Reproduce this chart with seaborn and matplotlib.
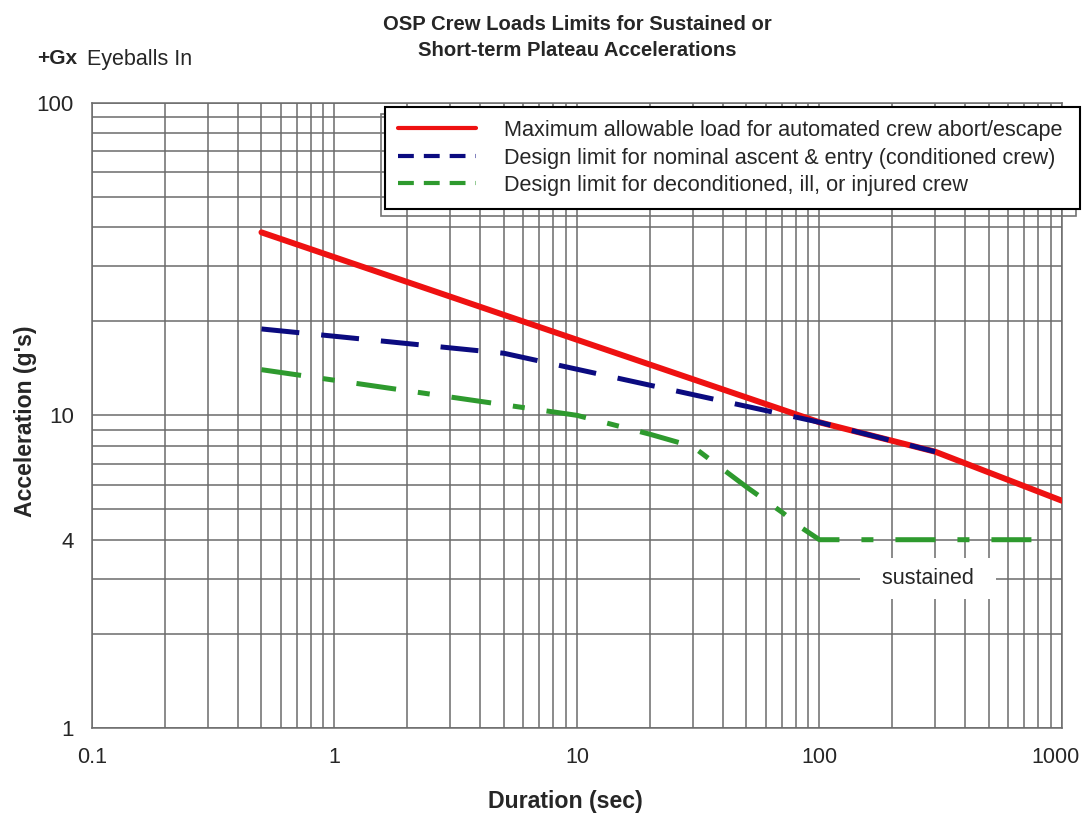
import matplotlib
matplotlib.use('Agg')
import matplotlib.pyplot as plt
from matplotlib.ticker import FixedLocator, FixedFormatter, LogLocator, NullFormatter
from matplotlib.transforms import ScaledTranslation
import pandas as pd
import seaborn as sns

# curves (duration in s, acceleration in g)
duration_abort = [0.5, 100, 300, 1000]
accel_abort = [38.5, 9.5, 7.65, 5.33]
duration_nominal = [0.5, 5, 100, 300]
accel_nominal = [18.9, 15.8, 9.5, 7.65]
duration_decond = [0.5, 10, 20, 30, 50, 70, 85, 100, 850]
accel_decond = [14.0, 10.0, 8.7, 7.95, 5.9, 4.9, 4.35, 4.0, 4.0]

series_labels = ["Maximum allowable load for automated crew abort/escape",
                 "Design limit for nominal ascent & entry (conditioned crew)",
                 "Design limit for deconditioned, ill, or injured crew"]
x_ticks = [0.1, 1, 10, 100, 1000]
x_ticklabels = ['0.1', '1', '10', '100', '1000']
y_ticks = [1, 4, 10, 100]
y_ticklabels = ['1', '4', '10', '100']

sns.set_style('white')
plt.rcParams['font.family'] = ['Liberation Sans', 'DejaVu Sans']

fig, ax = plt.subplots(figsize=(10.82, 8.16), dpi=100)
fig.subplots_adjust(left=0.085, right=0.9815, bottom=0.108, top=0.874)

abort = pd.DataFrame({'duration': duration_abort, 'accel': accel_abort})
nominal = pd.DataFrame({'duration': duration_nominal, 'accel': accel_nominal})
decond = pd.DataFrame({'duration': duration_decond, 'accel': accel_decond})

sns.lineplot(data=abort, x='duration', y='accel', color='#ee1111', lw=4.3,
             label=series_labels[0], legend=False, ax=ax, zorder=3)
sns.lineplot(data=nominal, x='duration', y='accel', color='#0b0b80', lw=3.6,
             linestyle=(0, (7.6, 4.4)), label=series_labels[1], legend=False, ax=ax, zorder=4)
sns.lineplot(data=decond, x='duration', y='accel', color='#2e9a2e', lw=3.6,
             linestyle=(0, (8, 4.4, 2.4, 4.4)), label=series_labels[2], legend=False, ax=ax, zorder=4)

ax.set_xscale('log')
ax.set_yscale('log')
ax.set_xlim(0.1, 1000)
ax.set_ylim(1, 100)

ax.xaxis.set_major_locator(FixedLocator(x_ticks))
ax.xaxis.set_major_formatter(FixedFormatter(x_ticklabels))
ax.xaxis.set_minor_locator(LogLocator(base=10, subs=range(2, 10)))
ax.xaxis.set_minor_formatter(NullFormatter())
ax.yaxis.set_major_locator(FixedLocator(y_ticks))
ax.yaxis.set_major_formatter(FixedFormatter(y_ticklabels))
ax.yaxis.set_minor_locator(LogLocator(base=10, subs=range(2, 10)))
ax.yaxis.set_minor_formatter(NullFormatter())

ax.set_axisbelow(True)
ax.grid(True, which='both', color='0.42', lw=1.1)
for sp in ax.spines.values():
    sp.set_color('0.42')
    sp.set_linewidth(1.1)
ax.tick_params(axis='y', which='major', length=5, width=1, color='0.42', pad=8, labelsize=16)
ax.tick_params(axis='y', which='minor', length=0)
ax.tick_params(axis='x', which='both', length=0, pad=14, labelsize=15.5)

ax.set_xlabel('Duration (sec)', fontsize=16.7, fontweight='bold')
ax.set_ylabel("Acceleration (g's)", fontsize=16.6, fontweight='bold')
ax.xaxis.set_label_coords(0.4876, -0.099)
ax.yaxis.set_label_coords(-0.0568, 0.49)

ax.text(280, 3.0, '  sustained  ', ha='center', va='center', fontsize=15.5,
        bbox=dict(boxstyle='square,pad=0.47', fc='white', ec='none'), zorder=3)

leg = ax.legend(loc='upper left', bbox_to_anchor=(0.3558, 0.7426, 0.6423, 0.1262),
                bbox_transform=fig.transFigure, mode='expand', borderaxespad=0,
                fontsize=15.6, frameon=True, fancybox=False, edgecolor='black',
                framealpha=1, borderpad=0.6, labelspacing=0.3, handlelength=3.6,
                handletextpad=1.3,
                shadow={'ox': -3, 'oy': -5, 'facecolor': 'none', 'edgecolor': '0.45',
                        'alpha': 1, 'linewidth': 1.2})
leg.get_frame().set_linewidth(1.5)
for i, line in enumerate(leg.get_lines()):
    line.set_linewidth(3)
    if i > 0:
        line.set_linestyle((0, (3.8, 2.4)))

fig.text(577 / 1082, 1 - 24 / 816, 'OSP Crew Loads Limits for Sustained or',
         ha='center', va='center', fontsize=14.6, fontweight='bold')
fig.text(577 / 1082, 1 - 51 / 816, 'Short-term Plateau Accelerations',
         ha='center', va='center', fontsize=14.6, fontweight='bold')
fig.text(37 / 1082, 1 - 59 / 816, '+Gx', ha='left', va='center', fontsize=15, fontweight='bold')
fig.text(87 / 1082, 1 - 59 / 816, 'Eyeballs In', ha='left', va='center', fontsize=15.5)

# keep the last x tick label inside the figure, as in the source
fig.canvas.draw()
last = ax.get_xticklabels()[-1]
last.set_transform(last.get_transform() + ScaledTranslation(-5 / 72, 0, fig.dpi_scale_trans))

fig.savefig('out.png', dpi=100)
